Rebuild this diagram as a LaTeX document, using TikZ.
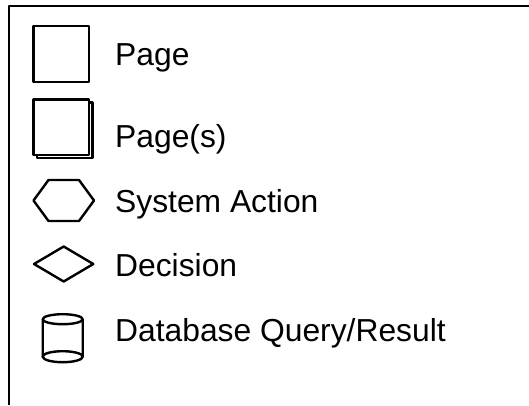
\documentclass[tikz,border=0pt]{standalone}
\usepackage{fontspec}
\setmainfont{Liberation Sans}
\usetikzlibrary{shapes.geometric}
\begin{document}
\begin{tikzpicture}[x=1pt,y=-1pt,line join=round,
  shp/.style={draw=black,line width=2.4pt,fill=white},
  lbl/.style={anchor=base west,inner sep=0pt,font=\fontsize{31.8}{36}\selectfont}]
\useasboundingbox (0,0) rectangle (529,405);
\draw[line width=2.4pt] (9,405) -- (9,6) -- (529,6);
% Page
\draw[shp] (33.5,26) rectangle (89,82);
\node[lbl] (t1) at (115,65) {Page};
% Page(s)
\draw[shp] (37,102.5) rectangle (92.5,158);
\draw[shp] (33.5,99.5) rectangle (89,155);
\node[lbl] (t2) at (115,147) {Page(s)};
% Hexagon
\draw[shp] (33.5,200.5) -- (48.5,180) -- (79,180) -- (94,200.5) -- (79,221) -- (48.5,221) -- cycle;
\node[lbl] (t3) at (115,212.7) {System Action};
% Diamond
\draw[shp] (34,264) -- (63.7,246.5) -- (93.3,264) -- (63.7,281.5) -- cycle;
\node[lbl] (t4) at (115,276) {Decision};
% Cylinder
\draw[shp] (42.7,319) -- (42.7,356.7) arc[start angle=180,end angle=360,x radius=20,y radius=5] -- (82.7,319);
\draw[shp] (62.7,356.7) ellipse[x radius=20,y radius=5.5];
\draw[shp] (62.7,319.2) ellipse[x radius=20,y radius=5];
\node[lbl] (t5) at (115,341.7) {Database Query/Result};
\end{tikzpicture}
\end{document}
